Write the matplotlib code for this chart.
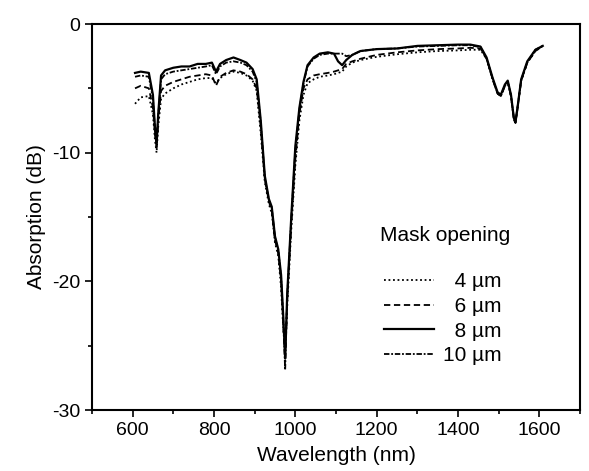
import matplotlib
matplotlib.use("Agg")
import matplotlib.pyplot as plt

plt.rcParams['font.family'] = ['Liberation Sans', 'DejaVu Sans']
plt.rcParams['axes.unicode_minus'] = False

# wavelength grid (nm) shared by all four traces
wl = [606, 620, 640, 650, 655, 659, 663, 670, 680, 700, 720, 740, 760, 780, 795,
      805, 815, 830, 848, 865, 880, 895, 905, 915, 925, 935, 942, 950, 958, 965,
      970, 975, 980, 985, 990, 1000, 1010, 1020, 1030, 1045, 1060, 1080, 1095,
      1105, 1115, 1125, 1140, 1160, 1200, 1250, 1300, 1350, 1400, 1430, 1455,
      1470, 1485, 1497, 1505, 1515, 1522, 1530, 1537, 1541, 1546, 1555, 1570,
      1590, 1608]

# absorption (dB) for each mask opening
a4 = [-6.2, -5.7, -5.6, -7.0, -9.0, -10.0, -8.0, -5.8, -5.4, -5.0, -4.7, -4.5, -4.3, -4.2, -4.2,
      -4.6, -4.2, -3.9, -3.7, -3.8, -4.0, -4.4, -5.2, -8.5, -12.3, -14.0, -14.7, -17.0, -18.0, -20.5,
      -23.5, -25.5, -22.0, -19.0, -16.0, -11.0, -7.5, -5.5, -4.6, -4.3, -4.1, -4.0, -3.9,
      -3.8, -3.7, -3.3, -3.0, -2.8, -2.55, -2.35, -2.2, -2.1, -2.05, -2.0, -2.0,
      -2.7, -4.3, -5.4, -5.6, -4.8, -4.5, -5.6, -7.3, -7.7, -6.5, -4.4, -3.0,
      -2.1, -1.7]
a6 = [-5.0, -4.8, -5.0, -6.5, -8.5, -9.6, -7.5, -5.2, -4.8, -4.5, -4.3, -4.1, -4.0, -3.9, -4.0,
      -4.8, -4.1, -3.8, -3.6, -3.7, -3.9, -4.3, -5.0, -8.0, -12.0, -13.8, -14.5, -16.8, -17.8, -20.0,
      -23.0, -26.0, -21.5, -18.5, -15.5, -10.5, -7.0, -5.0, -4.3, -4.0, -3.9, -3.8, -3.7,
      -3.6, -3.5, -3.1, -2.9, -2.7, -2.4, -2.2, -2.05, -1.95, -1.9, -1.85, -1.9,
      -2.7, -4.3, -5.4, -5.6, -4.8, -4.5, -5.6, -7.3, -7.7, -6.5, -4.4, -3.0,
      -2.1, -1.7]
a8 = [-3.8, -3.7, -3.8, -5.5, -8.0, -9.3, -7.0, -4.0, -3.6, -3.4, -3.3, -3.3, -3.1, -3.1, -3.0,
      -3.7, -3.1, -2.8, -2.6, -2.8, -3.0, -3.5, -4.3, -7.5, -11.8, -13.6, -14.2, -16.5, -17.5, -19.5,
      -22.5, -26.0, -21.0, -18.0, -15.0, -9.5, -6.5, -4.5, -3.2, -2.6, -2.3, -2.2, -2.3,
      -2.9, -3.2, -2.8, -2.4, -2.1, -1.95, -1.9, -1.7, -1.65, -1.6, -1.6, -1.75,
      -2.6, -4.2, -5.3, -5.5, -4.7, -4.4, -5.5, -7.3, -7.6, -6.5, -4.3, -2.9,
      -2.0, -1.7]
a10 = [-4.1, -4.0, -4.1, -5.8, -8.3, -9.5, -7.2, -4.3, -3.9, -3.7, -3.6, -3.5, -3.4, -3.3, -3.2,
       -3.9, -3.3, -3.0, -2.9, -3.0, -3.2, -3.7, -4.5, -7.7, -12.0, -13.7, -14.3, -16.6, -17.6, -19.7,
       -22.8, -26.9, -21.2, -18.2, -15.2, -9.8, -6.7, -4.6, -3.3, -2.7, -2.4, -2.3, -2.3,
       -2.3, -2.3, -2.5, -2.4, -2.1, -1.95, -1.9, -1.75, -1.7, -1.65, -1.65, -1.8,
       -2.7, -4.3, -5.4, -5.6, -4.8, -4.5, -5.6, -7.4, -7.7, -6.6, -4.4, -3.0,
       -2.0, -1.7]

labels = ['\u20074 \u00b5m', '\u20076 \u00b5m', '\u20078 \u00b5m', '10 \u00b5m']

fig = plt.figure(figsize=(5.89, 4.71), dpi=100)
ax = fig.add_axes([0.156, 0.1295, 0.829, 0.8195])

ax.plot(wl, a4, color='black', lw=1.3, ls=(0, (1, 1.5)), label=labels[0])
ax.plot(wl, a6, color='black', lw=1.3, ls=(0, (3.5, 2)), label=labels[1])
ax.plot(wl, a8, color='black', lw=1.6, ls='-', label=labels[2])
ax.plot(wl, a10, color='black', lw=1.3, ls=(0, (3, 1, 1, 1)), label=labels[3])

ax.set_xlim(500, 1700)
ax.set_ylim(-30, 0)
ax.set_xticks([600, 800, 1000, 1200, 1400, 1600])
ax.set_xticks(range(500, 1701, 100), minor=True)
ax.set_yticks([-30, -20, -10, 0])
ax.set_yticks([-25, -15, -5], minor=True)
ax.tick_params(which='both', direction='out', width=1.2, labelsize=14)
ax.tick_params(which='major', length=5)
ax.tick_params(which='minor', length=3)
for s in ax.spines.values():
    s.set_linewidth(1.5)

ax.set_xlabel('Wavelength (nm)', fontsize=15, labelpad=5)
ax.set_ylabel('Absorption (dB)', fontsize=15)

ax.text(0.59, 0.451, 'Mask opening', transform=ax.transAxes, fontsize=15,
        ha='left', va='center')
ax.legend(loc='upper left', bbox_to_anchor=(0.56, 0.405),
          frameon=False, fontsize=15, handlelength=2.4,
          handletextpad=0.45, labelspacing=0.27)

fig.savefig('out.png', dpi=100)
